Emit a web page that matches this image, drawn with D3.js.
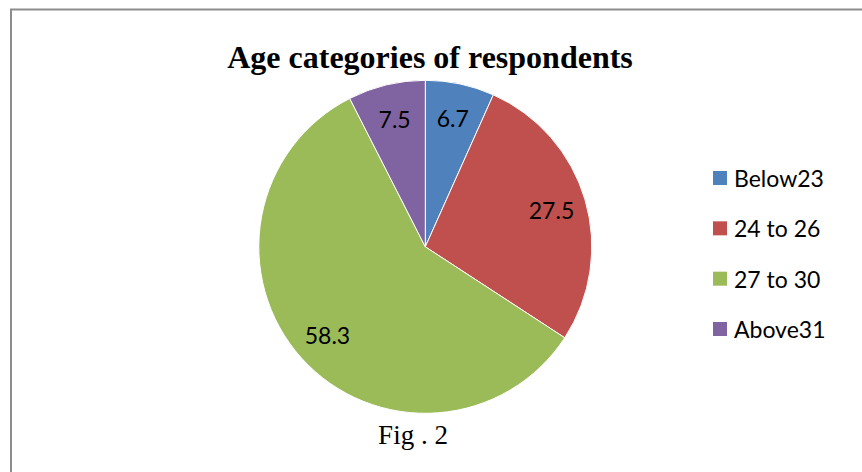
<!DOCTYPE html>
<html>
<head>
<meta charset="utf-8">
<script src="https://cdn.jsdelivr.net/npm/d3@7"></script>
<style>
  html, body { margin: 0; padding: 0; background: #fff; }
  svg { display: block; }
</style>
</head>
<body>
<svg id="chart" width="862" height="472"></svg>
<script>
// Age categories and their share of respondents (%)
const categories = ["Below23", "24 to 26", "27 to 30", "Above31"];
const shares = [6.7, 27.5, 58.3, 7.5];
const colors = ["#4F81BD", "#C0504D", "#9BBB59", "#8064A2"];
const titleText = "Age categories of respondents";
const captionText = "Fig . 2";

const svg = d3.select("#chart");
const W = 862, H = 472;

// outer frame (runs past the right and bottom edges)
svg.append("rect")
  .attr("x", 11).attr("y", 9.5)
  .attr("width", W + 20).attr("height", H + 20)
  .attr("fill", "#fff")
  .attr("stroke", "#8c8c8c")
  .attr("stroke-width", 2);

// title
svg.append("text")
  .attr("x", 430).attr("y", 68)
  .attr("text-anchor", "middle")
  .attr("font-family", "'Liberation Serif', 'Times New Roman', serif")
  .attr("font-weight", "bold")
  .attr("font-size", 32)
  .attr("fill", "#000")
  .text(titleText);

// pie
const cx = 425.3, cy = 246.8, r = 166.5;
const data = categories.map((c, i) => ({ cat: c, value: shares[i], color: colors[i] }));
const pie = d3.pie().value(d => d.value).sort(null);
const arcs = pie(data);
const arc = d3.arc().innerRadius(0).outerRadius(r);
const labelArc = d3.arc().innerRadius(r * 0.79).outerRadius(r * 0.79);

const g = svg.append("g").attr("transform", `translate(${cx},${cy})`);
g.selectAll("path.slice")
  .data(arcs)
  .join("path")
  .attr("class", "slice")
  .attr("d", arc)
  .attr("fill", d => d.data.color)
  .attr("stroke", "#fff")
  .attr("stroke-width", 1);

g.selectAll("text.val")
  .data(arcs)
  .join("text")
  .attr("class", "val")
  .attr("transform", d => `translate(${labelArc.centroid(d)})`)
  .attr("text-anchor", "middle")
  .attr("dominant-baseline", "central")
  .attr("font-family", "Lato, 'Open Sans', sans-serif")
  .attr("font-size", 23)
  .attr("fill", "#000")
  .text(d => d.data.value);

// legend
const legendY = d3.scalePoint().domain(categories).range([178, 329]);
const lg = svg.append("g");
const item = lg.selectAll("g.item")
  .data(data)
  .join("g")
  .attr("class", "item")
  .attr("transform", d => `translate(713,${legendY(d.cat)})`);
item.append("rect")
  .attr("x", 0).attr("y", -7)
  .attr("width", 14).attr("height", 14)
  .attr("fill", d => d.color);
item.append("text")
  .attr("x", 21).attr("y", 0)
  .attr("dominant-baseline", "central")
  .attr("font-family", "Lato, 'Open Sans', sans-serif")
  .attr("font-size", 23)
  .attr("fill", "#000")
  .text(d => d.cat);

// caption
svg.append("text")
  .attr("x", 413).attr("y", 444)
  .attr("text-anchor", "middle")
  .attr("font-family", "'Liberation Serif', 'Times New Roman', serif")
  .attr("font-size", 27)
  .attr("fill", "#000")
  .text(captionText);
</script>
</body>
</html>
